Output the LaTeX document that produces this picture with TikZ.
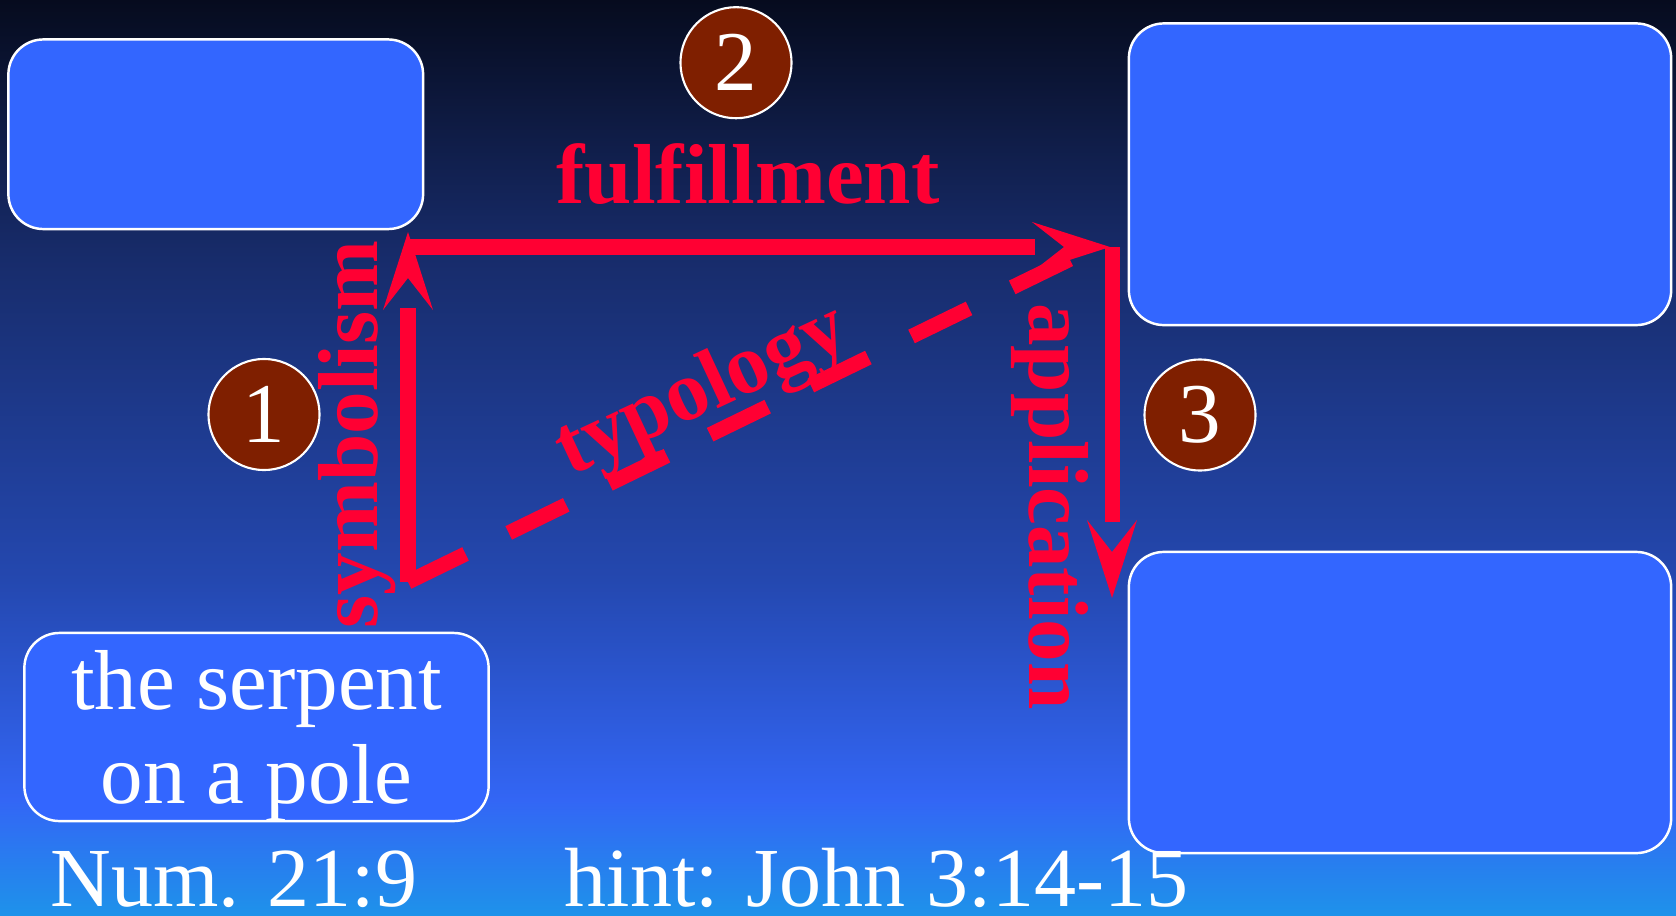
\documentclass[tikz,border=0pt]{standalone}
\usepackage{fontspec}
\setmainfont[Ligatures=NoCommon]{Liberation Serif}
\usetikzlibrary{arrows.meta}
\definecolor{boxblue}{HTML}{3366FF}
\definecolor{arrred}{HTML}{FF0033}
\definecolor{numfill}{HTML}{7F1F00}
\definecolor{bgA}{HTML}{060B1E}
\definecolor{bgB}{HTML}{172B69}
\definecolor{bgC}{HTML}{2448B0}
\definecolor{bgD}{HTML}{3366F5}
\definecolor{bgE}{HTML}{1E92EA}
\begin{document}
\begin{tikzpicture}[x=0.01cm,y=-0.01cm,
  box/.style={draw=white, line width=0.7pt, fill=boxblue, rounded corners=0.35cm, inner sep=0pt},
  num/.style={circle, draw=white, line width=0.6pt, fill=numfill, minimum size=1.11cm, inner sep=0pt, text=white, font=\fontsize{24.2}{26.75}\selectfont},
  lbl/.style={text=arrred, font=\fontsize{24.2}{26.75}\selectfont\bfseries, inner sep=0pt},
  whitetext/.style={text=white, font=\fontsize{24.2}{26.75}\selectfont, inner sep=0pt},
  foottext/.style={text=white, font=\fontsize{23.9}{26.5}\selectfont, inner sep=0pt},
  conn/.style={draw=arrred, line width=4.27pt},
  headonly/.style={draw=arrred, line width=4.27pt, draw opacity=0,
    -{Stealth[length=0.78cm, width=0.5cm, inset=0.32cm, line width=0pt, fill=arrred, color=arrred]}}
]
\useasboundingbox (0,0) rectangle (1676,915);
% background
\shade[top color=bgA, bottom color=bgB] (0,0) rectangle (1676,251);
\shade[top color=bgB, bottom color=bgC] (0,250) rectangle (1676,581);
\shade[top color=bgC, bottom color=bgD] (0,580) rectangle (1676,801);
\shade[top color=bgD, bottom color=bgE] (0,800) rectangle (1676,915);
% boxes
\node[box, minimum width=4.145cm, minimum height=1.895cm] (tl) at (215.75,134.25) {};
\node[box, minimum width=5.42cm, minimum height=3.015cm] (tr) at (1400,174.25) {};
\node[box, minimum width=5.42cm, minimum height=3.01cm] (br) at (1400,702.5) {};
\node[box, minimum width=4.64cm, minimum height=1.88cm] (bl) at (256.5,727) {};
\node[whitetext, align=center] (bltext) at (256.5,736) {the serpent\\on a pole};
% numbered circles
\node[num] (n1) at (264,414.5) {1};
\node[num] (n2) at (736,62.7) {2};
\node[num] (n3) at (1200,415) {3};
% connector end points
\coordinate (sb) at (408,582);   % symbolism start
\coordinate (se) at (408,308);   % symbolism line end (gap before head)
\coordinate (st) at (408,232);   % symbolism tip
\coordinate (fs) at (408,247);   % fulfillment start
\coordinate (fe) at (1035,247);  % fulfillment line end
\coordinate (ft) at (1110,247);  % fulfillment tip
\coordinate (ab) at (1112,247);  % application start
\coordinate (ax) at (1112,522);  % application line end
\coordinate (ae) at (1112,598);  % application tip
\coordinate (te) at (1095,247);  % typology end
% connectors: visible shafts
\draw[conn] (sb) -- (se);
\draw[conn] (fs) -- (fe);
\draw[conn] (ab) -- (ax);
% connectors: arrowheads (shaft transparent)
\path[headonly] (sb) -- (st);
\path[headonly] (fs) -- (ft);
\path[headonly] (ab) -- (ae);
% typology (dashed)
\draw[conn, dash pattern=on 18.2pt off 13.66pt] (sb) -- (te);
% labels
\node[lbl, anchor=base] (lf) at (748,203) {fulfillment};
\node[lbl, anchor=base, rotate=90] (ls) at (377,434.5) {symbolism};
\node[lbl, anchor=base, rotate=-90] (la) at (1029,506.5) {application};
\node[lbl, anchor=base, rotate=25] (lt) at (712,411) {typology};
% bottom texts
\node[foottext, anchor=base west] (ref) at (50,906) {Num. 21:9};
\node[foottext, anchor=base west] (hint) at (564,906) {hint: John 3:14-15};
\end{tikzpicture}
\end{document}
